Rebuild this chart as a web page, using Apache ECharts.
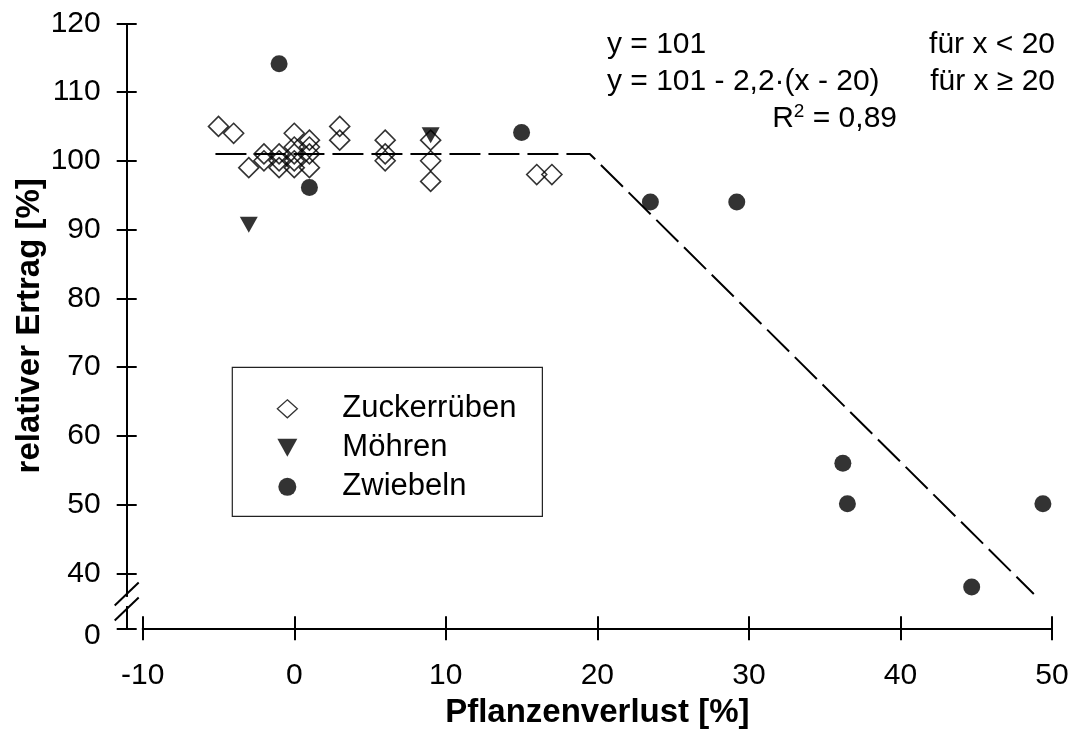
<!DOCTYPE html>
<html>
<head>
<meta charset="utf-8">
<script src="https://cdn.jsdelivr.net/npm/echarts@6/dist/echarts.min.js"></script>
<style>
  html, body { margin: 0; padding: 0; background: #fff; }
  #chart { width: 1071px; height: 749px; }
</style>
</head>
<body>
<div id="chart"></div>
<script>
// Relative yield vs. plant loss for three crops, with a piecewise linear fit.
const FONT = '"Liberation Sans", Arial, Helvetica, sans-serif';

const xTickLabels = ['-10', '0', '10', '20', '30', '40', '50'];
const yTickLabels = ['0', '40', '50', '60', '70', '80', '90', '100', '110', '120'];

const seriesNames = ['Zuckerrüben', 'Möhren', 'Zwiebeln'];

// [Pflanzenverlust %, relativer Ertrag %]
const zuckerrueben = [
  [-5, 105], [-4, 104], [-3, 99], [-2, 101], [-2, 100],
  [-1, 101], [-1, 100], [-1, 99],
  [0, 104], [0, 102], [0, 101], [0, 100], [0, 99],
  [1, 103], [1, 102], [1, 101], [1, 99],
  [3, 105], [3, 103],
  [6, 103], [6, 101], [6, 100],
  [9, 103], [9, 100], [9, 97],
  [16, 98], [17, 98]
];
const moehren = [[-3, 90.7], [9, 103.7]];
const zwiebeln = [
  [-1, 114.1], [1, 96.1], [15, 104.1], [23.5, 94], [29.2, 94],
  [36.2, 56], [36.5, 50.1], [44.7, 38], [49.4, 50.1]
];

// Piecewise fit: y = 101 for x < 20, then falling with slope -2.2
const fitLine = [[-5.2, 101], [19.5, 101], [48.8, 37.0]];

// Collapsed stretch of the value axis between 0 and the plotted range
const yBreaks = [{ start: 0, end: 32, gap: 0 }];

const GRID = { left: 142.7, right: 19, top: 23.3, bottom: 120.7 };
const Y_OFFSET = 16;

const axisLineStyle = { color: '#000', width: 2 };

function xAxisBase(extra) {
  return Object.assign({
    type: 'value', min: -10, max: 50, interval: 10, position: 'bottom',
    splitLine: { show: false },
    axisLine: { show: false, onZero: false, lineStyle: axisLineStyle },
    axisTick: { show: true, length: 12, lineStyle: axisLineStyle },
    axisLabel: { show: false }
  }, extra);
}
function yAxisBase(extra) {
  return Object.assign({
    type: 'value', min: 0, max: 120, interval: 10, position: 'left', offset: Y_OFFSET,
    breaks: yBreaks,
    breakArea: { show: false },
    splitLine: { show: false },
    axisLine: { show: false, onZero: false, lineStyle: axisLineStyle },
    axisTick: { show: true, length: 10, lineStyle: axisLineStyle },
    axisLabel: { show: false }
  }, extra);
}

const titleStyle = { fontFamily: FONT, fontSize: 33, fontWeight: 'bold', color: '#000' };

const option = {
  animation: false,
  backgroundColor: '#fff',
  textStyle: { fontFamily: FONT },
  grid: Object.assign({ containLabel: false, outerBoundsMode: 'none' }, GRID),
  xAxis: [
    xAxisBase({
      name: 'Pflanzenverlust [%]',
      nameLocation: 'middle',
      nameGap: 68,
      nameMoveOverlap: false,
      nameTextStyle: titleStyle,
      axisLine: { show: true, onZero: false, lineStyle: axisLineStyle },
      axisTick: { show: true, inside: false, length: 12, lineStyle: axisLineStyle },
      axisLabel: {
        show: true, margin: 32, fontFamily: FONT, fontSize: 30, color: '#000',
        formatter: v => xTickLabels.includes(String(v)) ? String(v) : ''
      }
    }),
    xAxisBase({ axisTick: { show: true, inside: true, length: 12, lineStyle: axisLineStyle } })
  ],
  yAxis: [
    yAxisBase({
      name: 'relativer Ertrag [%]',
      nameLocation: 'middle',
      nameRotate: 90,
      nameGap: 80,
      nameMoveOverlap: false,
      nameTextStyle: titleStyle,
      axisLine: { show: true, onZero: false, lineStyle: axisLineStyle },
      axisTick: { show: true, inside: false, length: 10, lineStyle: axisLineStyle },
      axisLabel: {
        show: true, margin: 26, fontFamily: FONT, fontSize: 30, color: '#000',
        formatter: v => yTickLabels.includes(String(v)) ? String(v) : ''
      }
    }),
    yAxisBase({ axisTick: { show: true, inside: true, length: 10, lineStyle: axisLineStyle } })
  ],
  legend: {
    orient: 'vertical',
    left: 232.3,
    top: 367.3,
    padding: [26, 26, 14, 44.4],
    itemGap: 8,
    itemWidth: 20,
    itemHeight: 18,
    borderColor: '#222',
    borderWidth: 1.2,
    backgroundColor: '#fff',
    textStyle: { fontFamily: FONT, fontSize: 31, color: '#000', lineHeight: 30, padding: [0, 0, 0, 40] },
    data: [
      { name: seriesNames[0], icon: 'diamond', itemStyle: { color: '#fff', borderColor: '#000', borderWidth: 1.3 } },
      { name: seriesNames[1], icon: 'path://M0,0L20,0L10,18Z', itemStyle: { color: '#000' } },
      { name: seriesNames[2], icon: 'circle', itemStyle: { color: '#000' } }
    ]
  },
  series: [
    {
      name: 'Anpassung',
      type: 'line',
      data: fitLine,
      symbol: 'none',
      silent: true,
      z: 1,
      lineStyle: { color: '#000', width: 2, type: [31, 8] }
    },
    {
      name: seriesNames[0],
      type: 'scatter',
      data: zuckerrueben,
      symbol: 'diamond',
      symbolSize: [20, 20],
      z: 3,
      itemStyle: { color: 'rgba(255,255,255,0)', borderColor: '#000', borderWidth: 1.6 }
    },
    {
      name: seriesNames[1],
      type: 'scatter',
      data: moehren,
      symbol: 'triangle',
      symbolRotate: 180,
      symbolSize: [18, 16],
      z: 4,
      itemStyle: { color: '#000' }
    },
    {
      name: seriesNames[2],
      type: 'scatter',
      data: zwiebeln,
      symbol: 'circle',
      symbolSize: 17,
      z: 4,
      itemStyle: { color: '#000' }
    }
  ]
};

const chart = echarts.init(document.getElementById('chart'), null, { renderer: 'canvas' });
chart.setOption(option);

// Equation block and the axis-break marks
const eqFont = '30px ' + FONT;
const axisX = GRID.left - Y_OFFSET;
const breakUpper = chart.convertToPixel({ yAxisIndex: 0 }, 37.0);
const breakLower = chart.convertToPixel({ yAxisIndex: 0 }, 34.8);

function eqText(x, y, text, align) {
  return {
    type: 'text', z: 100,
    style: { x: x, y: y, text: text, font: eqFont, fill: '#000', textAlign: align || 'left', textVerticalAlign: 'middle' }
  };
}
function slash(yc) {
  return {
    type: 'line', z: 102,
    shape: { x1: axisX - 12, y1: yc + 11.5, x2: axisX + 12, y2: yc - 11.5 },
    style: { stroke: '#000', lineWidth: 2 }
  };
}

const LINE1 = 44.6, LINE2 = 81.3, LINE3 = 118.6;

chart.setOption({
  graphic: [
    eqText(607, LINE1, 'y = 101'),
    eqText(1055, LINE1, 'für x < 20', 'right'),
    eqText(607, LINE2, 'y = 101 - 2,2·(x - 20)'),
    eqText(1055, LINE2, 'für x ≥ 20', 'right'),
    {
      type: 'text', z: 100,
      style: {
        x: 897, y: LINE3, text: 'R{sup|2} = 0,89', font: eqFont, fill: '#000',
        textAlign: 'right', textVerticalAlign: 'middle',
        rich: { sup: { fontSize: 19, fontFamily: FONT, verticalAlign: 'top', padding: [0, 0, 14, 0] } }
      }
    },
    {
      type: 'rect', z: 101,
      shape: { x: axisX - 3, y: breakUpper + 3, width: 6, height: Math.max(0, breakLower - breakUpper - 6) },
      style: { fill: '#fff' }
    },
    slash(breakUpper),
    slash(breakLower)
  ]
});
</script>
</body>
</html>
